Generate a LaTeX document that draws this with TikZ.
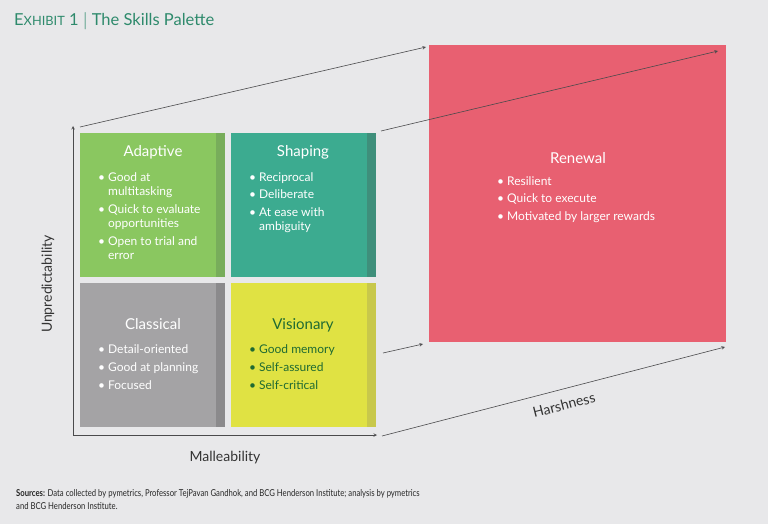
\documentclass[tikz,border=0pt]{standalone}
\usepackage{fontspec}
\setmainfont{Lato}
\newfontfamily\srcfont[FakeStretch=0.81]{Lato}
\usetikzlibrary{positioning}
\definecolor{bg}{HTML}{E8E8EA}
\definecolor{headc}{HTML}{2E8A6C}
\definecolor{adapt}{HTML}{8AC760}
\definecolor{adaptdk}{HTML}{78AD5B}
\definecolor{shape}{HTML}{3CAB90}
\definecolor{shapedk}{HTML}{3F8F7B}
\definecolor{classic}{HTML}{A4A3A5}
\definecolor{classicdk}{HTML}{8B8A8C}
\definecolor{vision}{HTML}{E0E243}
\definecolor{visiondk}{HTML}{C8C84B}
\definecolor{renew}{HTML}{E86071}
\definecolor{visiontxt}{HTML}{1F6A32}
\definecolor{linec}{HTML}{4A4A4C}
\tikzset{cell/.style={anchor=north west,minimum width=145pt,minimum height=144pt,inner sep=0pt,outer sep=0pt},
  strip/.style={anchor=north east,minimum width=9.5pt,minimum height=144pt,inner sep=0pt,outer sep=0pt},
  head/.style={anchor=base,font=\fontsize{15}{18}\selectfont,text=white},
  items/.style={anchor=north west,align=left,inner sep=0pt,font=\fontsize{12}{14.5}\selectfont,text=white},
  link/.style={->,draw=linec,line width=0.6pt}}
\newcommand{\blt}{\textbullet}

\begin{document}
\begin{tikzpicture}[x=1pt,y=-1pt,>=stealth]
        \fill[bg] (0,0) rectangle (768,524);
        \useasboundingbox (0,0) rectangle (768,524);

        \node[anchor=base west,inner sep=0pt,text=headc] (title) at (14,26)
            {\fontsize{16.5}{18}\selectfont E\fontsize{12.8}{14}\selectfont XHIBIT\fontsize{16.5}{18}\selectfont{} 1 $|$ The Skills Palette};

        \node[cell,fill=adapt] (adaptive) at (80,133) {};
        \node[strip,fill=adaptdk] at (adaptive.north east) {};
        \node[cell,fill=shape] (shaping) at (231,133) {};
        \node[strip,fill=shapedk] at (shaping.north east) {};
        \node[cell,fill=classic] (classical) at (80,283) {};
        \node[strip,fill=classicdk] at (classical.north east) {};
        \node[cell,fill=vision] (visionary) at (231,283) {};
        \node[strip,fill=visiondk] at (visionary.north east) {};
        \node[cell,fill=renew,minimum width=297pt,minimum height=297pt] (renewal) at (429,45) {};

        \node[head] at (153,157) {Adaptive};
        \node[items] at (98,171) {\begin{tabular}{@{}l@{\hspace{3pt}}l@{}}
            \blt & Good at\\ & multitasking\\[3pt]
            \blt & Quick to evaluate\\ & opportunities\\[3pt]
            \blt & Open to trial and\\ & error\end{tabular}};
        \node[head] at (303,157) {Shaping};
        \node[items] at (249,171) {\begin{tabular}{@{}l@{\hspace{3pt}}l@{}}
            \blt & Reciprocal\\[3pt]
            \blt & Deliberate\\[3pt]
            \blt & At ease with\\ & ambiguity\end{tabular}};
        \node[head] at (153,329) {Classical};
        \node[items] at (98,343) {\begin{tabular}{@{}l@{\hspace{3pt}}l@{}}
            \blt & Detail-oriented\\[3.5pt]
            \blt & Good at planning\\[3.5pt]
            \blt & Focused\end{tabular}};
        \node[head,text=visiontxt] at (303,329) {Visionary};
        \node[items,text=visiontxt] at (249,343) {\begin{tabular}{@{}l@{\hspace{3pt}}l@{}}
            \blt & Good memory\\[3.5pt]
            \blt & Self-assured\\[3.5pt]
            \blt & Self-critical\end{tabular}};
        \node[head] at (578,163) {Renewal};
        \node[items] at (497,175) {\begin{tabular}{@{}l@{\hspace{3pt}}l@{}}
            \blt & Resilient\\[3pt]
            \blt & Quick to execute\\[3pt]
            \blt & Motivated by larger rewards\end{tabular}};

        % axes
        \coordinate (o) at (73,435);
        \coordinate (ytop) at (73,126);
        \coordinate (xend) at (377,435);
        \draw [->,linec,line width=0.6pt] (o) -- (ytop);
        \draw [->,linec,line width=0.6pt] (o) -- (xend);
        \node[anchor=base,font=\fontsize{14}{16}\selectfont,text=black!80] (mall) at (225,461) {Malleability};
        \node[rotate=90,font=\fontsize{14}{16}\selectfont,text=black!80] (unpred) at (48,284) {Unpredictability};

        % projection lines
        \coordinate (a1) at (80,127);
        \coordinate (a2) at (381,131);
        \coordinate (a3) at (383,353);
        \coordinate (a4) at (382,436);
        \draw [link] (a1) -- ([shift={(-3,2)}]renewal.north west);
        \draw [link] (a2) -- ([shift={(-8,6)}]renewal.north east);
        \draw [link] (a3) -- ([shift={(-6,2)}]renewal.south west);
        \draw [link] (a4) -- ([shift={(-1,5)}]renewal.south east);
        \node[rotate=14.4,font=\fontsize{14}{16}\selectfont,text=black!80] (harsh) at (564,405) {Harshness};

        \node[anchor=base west,align=left,inner sep=0pt,font=\srcfont\fontsize{9.5}{12.5}\selectfont,text=black!85] (src) at (16,509)
            {\textbf{Sources:} Data collected by pymetrics, Professor TejPavan Gandhok, and BCG Henderson Institute; analysis by pymetrics\\and BCG Henderson Institute.};
    \end{tikzpicture}
\end{document}
